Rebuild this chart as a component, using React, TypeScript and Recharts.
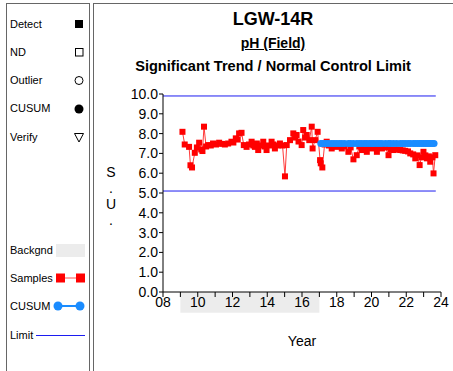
import { ComposedChart, Line, XAxis, YAxis, ReferenceLine, ReferenceArea } from 'recharts';

const sampleYears = [
  2009.12, 2009.25, 2009.5, 2009.58, 2009.67, 2009.83, 2009.95, 2010.08, 2010.2, 2010.27,
  2010.36, 2010.48, 2010.6, 2010.75, 2010.88, 2011.05, 2011.23, 2011.4, 2011.56, 2011.75,
  2011.94, 2012.05, 2012.19, 2012.3, 2012.38, 2012.52, 2012.65, 2012.81, 2012.95, 2013.1,
  2013.2, 2013.29, 2013.4, 2013.48, 2013.6, 2013.77, 2013.85, 2013.96, 2014.1, 2014.25,
  2014.35, 2014.44, 2014.6, 2014.73, 2014.88, 2015.02, 2015.12, 2015.31, 2015.5, 2015.6,
  2015.69, 2015.8, 2015.98, 2016.07, 2016.18, 2016.27, 2016.42, 2016.56, 2016.61, 2016.75,
  2016.9, 2017.04, 2017.08, 2017.17, 2017.3, 2017.42, 2017.55, 2017.71, 2017.85, 2018.0,
  2018.15, 2018.29, 2018.45, 2018.67, 2018.8, 2018.96, 2019.15, 2019.3, 2019.44, 2019.6,
  2019.73, 2019.88, 2020.02, 2020.15, 2020.31, 2020.45, 2020.6, 2020.8, 2020.98, 2021.1,
  2021.27, 2021.45, 2021.65, 2021.8, 2021.94, 2022.1, 2022.23, 2022.4, 2022.52, 2022.65,
  2022.77, 2022.88, 2022.99, 2023.1, 2023.19, 2023.3, 2023.38, 2023.5, 2023.57, 2023.67,
];

const samplePH = [
  8.09, 7.45, 7.33, 6.4, 6.29, 7.03, 7.3, 7.54, 7.2, 7.12,
  8.35, 7.35, 7.42, 7.4, 7.5, 7.45, 7.54, 7.48, 7.45, 7.5,
  7.59, 7.55, 7.76, 7.7, 8.01, 8.04, 7.42, 7.33, 7.45, 7.59,
  7.4, 7.33, 7.5, 7.17, 7.4, 7.59, 7.35, 7.17, 7.4, 7.59,
  7.45, 7.25, 7.4, 7.5, 7.4, 5.84, 7.42, 7.67, 8.01, 7.8,
  7.93, 7.6, 7.42, 8.18, 7.8, 7.93, 7.67, 8.35, 7.25, 7.67,
  8.09, 6.66, 6.5, 6.29, 7.45, 7.59, 7.4, 7.25, 7.4, 7.33,
  7.4, 7.25, 7.35, 7.08, 7.3, 6.7, 6.91, 7.35, 7.17, 7.3,
  7.08, 7.3, 7.25, 7.35, 7.08, 7.3, 7.25, 7.3, 6.91, 7.2,
  7.17, 7.2, 7.17, 7.15, 7.13, 7.1, 7.0, 6.95, 6.75, 6.9,
  6.41, 6.8, 7.08, 6.9, 6.75, 6.85, 6.58, 6.8, 5.99, 6.91,
];

const cusumYears = [
  2017.08, 2017.17, 2017.3, 2017.42, 2017.55, 2017.71, 2017.85, 2018.0, 2018.15, 2018.29,
  2018.45, 2018.67, 2018.8, 2018.96, 2019.15, 2019.3, 2019.44, 2019.6, 2019.73, 2019.88,
  2020.02, 2020.15, 2020.31, 2020.45, 2020.6, 2020.8, 2020.98, 2021.1, 2021.27, 2021.45,
  2021.65, 2021.8, 2021.94, 2022.1, 2022.23, 2022.4, 2022.52, 2022.65, 2022.77, 2022.88,
  2022.99, 2023.1, 2023.19, 2023.3, 2023.38, 2023.5, 2023.6,
];

const cusumValues = [
  7.5, 7.5, 7.5, 7.5, 7.5, 7.5, 7.5, 7.5, 7.5, 7.5,
  7.5, 7.5, 7.5, 7.5, 7.5, 7.5, 7.5, 7.5, 7.5, 7.5,
  7.5, 7.5, 7.5, 7.5, 7.5, 7.5, 7.5, 7.5, 7.5, 7.5,
  7.5, 7.5, 7.5, 7.5, 7.5, 7.5, 7.5, 7.5, 7.5, 7.5,
  7.5, 7.5, 7.5, 7.5, 7.5, 7.5, 7.5,
];

const yearTicks = [2008, 2009, 2010, 2011, 2012, 2013, 2014, 2015, 2016, 2017, 2018, 2019, 2020, 2021, 2022, 2023, 2024];
const phTicks = [0, 1, 2, 3, 4, 5, 6, 7, 8, 9, 10];

const upperLimit = 9.9;
const lowerLimit = 5.1;
const limitEnd = 2023.7;
const backgroundStart = 2009;
const backgroundEnd = 2017;

const sampleData = sampleYears.map((year, i) => ({ year, ph: samplePH[i] }));
const cusumData = cusumYears.map((year, i) => ({ year, cusum: cusumValues[i] }));

const FONT = '"Liberation Sans", Arial, Helvetica, sans-serif';
const RED = '#ff0000';
const BLUE = '#1a8cff';
const LIMIT = '#1c1cf0';

function SquareDot(props: any) {
  const { cx, cy } = props;
  if (cx == null || cy == null) return null;
  return <rect x={cx - 3} y={cy - 3} width={6} height={6} fill={RED} />;
}

function LegendPanel() {
  const label = (y: number, text: string) => (
    <text x={4} y={y} dominantBaseline="central" fontSize={11} fill="#000">{text}</text>
  );
  return (
    <svg width={83} height={368} style={{ position: 'absolute', left: 6, top: 3 }}>
      {label(21, 'Detect')}
      <rect x={69} y={17} width={8} height={8} fill="#000" />
      {label(49, 'ND')}
      <rect x={69.5} y={45.5} width={7.5} height={7.5} fill="none" stroke="#000" />
      {label(77, 'Outlier')}
      <circle cx={73} cy={77.5} r={4} fill="none" stroke="#000" />
      {label(105, 'CUSUM')}
      <circle cx={73} cy={106} r={4.5} fill="#000" />
      {label(134, 'Verify')}
      <polygon points="68.5,130.5 77.5,130.5 73,139" fill="none" stroke="#000" />

      {label(247, 'Backgnd')}
      <rect x={50} y={241} width={29} height={13} fill="#ececec" />
      {label(275, 'Samples')}
      <line x1={54} y1={275} x2={75} y2={275} stroke="#ff5050" strokeWidth={1} />
      <rect x={50} y={270.5} width={9} height={9} fill={RED} />
      <rect x={70} y={270.5} width={9} height={9} fill={RED} />
      {label(303, 'CUSUM')}
      <line x1={52} y1={303} x2={74} y2={303} stroke={BLUE} strokeWidth={2} />
      <circle cx={52} cy={303} r={4.5} fill={BLUE} />
      <circle cx={74} cy={303} r={4.5} fill={BLUE} />
      {label(332, 'Limit')}
      <line x1={30} y1={332.5} x2={79} y2={332.5} stroke={LIMIT} strokeWidth={1} />
    </svg>
  );
}

export default function App() {
  return (
    <div style={{ position: 'absolute', left: 0, top: 0, width: 453, height: 371, overflow: 'hidden', background: '#fff', fontFamily: FONT }}>
      <div style={{ position: 'absolute', left: 6, top: 3, width: 84, height: 380, border: '1px solid #666', boxSizing: 'border-box' }} />
      <div style={{ position: 'absolute', left: 93, top: 3, width: 380, height: 380, border: '1px solid #666', boxSizing: 'border-box' }} />
      <LegendPanel />

      <ComposedChart
        width={453}
        height={371}
        margin={{ top: 94, right: 12, bottom: 49, left: 113 }}
        style={{ position: 'absolute', left: 0, top: 0, fontFamily: FONT }}
      >
        <XAxis
          dataKey="year"
          type="number"
          domain={[2008, 2024]}
          ticks={yearTicks}
          allowDataOverflow
          interval={0}
          height={30}
          tickSize={5}
          tickMargin={0}
          stroke="#000"
          tick={{ fill: '#000', fontSize: 14 }}
          tickFormatter={(v: number) => (v % 2 === 0 ? String(v % 100).padStart(2, '0') : '')}
        />
        <YAxis
          type="number"
          domain={[0, 10]}
          ticks={phTicks}
          allowDataOverflow
          interval={0}
          width={50}
          tickSize={4}
          tickMargin={1}
          stroke="#000"
          tick={{ fill: '#000', fontSize: 14 }}
          tickFormatter={(v: number) => v.toFixed(1)}
        />
        <ReferenceArea
          x1={backgroundStart}
          x2={backgroundEnd}
          y1={-1.05}
          y2={0}
          ifOverflow="visible"
          fill="#ececec"
          fillOpacity={1}
          stroke="none"
        />
        <ReferenceLine
          segment={[{ x: 2008, y: upperLimit }, { x: limitEnd, y: upperLimit }]}
          stroke={LIMIT}
          strokeWidth={1}
        />
        <ReferenceLine
          segment={[{ x: 2008, y: lowerLimit }, { x: limitEnd, y: lowerLimit }]}
          stroke={LIMIT}
          strokeWidth={1}
        />
        <Line
          data={sampleData}
          dataKey="ph"
          type="linear"
          stroke="#ff3a3a"
          strokeWidth={1}
          dot={<SquareDot />}
          activeDot={false}
          isAnimationActive={false}
        />
        <Line
          data={cusumData}
          dataKey="cusum"
          type="linear"
          stroke={BLUE}
          strokeWidth={3}
          dot={{ r: 3.5, fill: BLUE, stroke: 'none' }}
          activeDot={false}
          isAnimationActive={false}
        />
      </ComposedChart>

      <div style={{ position: 'absolute', left: 93, width: 360, top: 8, textAlign: 'center', fontWeight: 'bold', fontSize: 18, lineHeight: '22px', color: '#000' }}>
        LGW-14R
      </div>
      <div style={{ position: 'absolute', left: 93, width: 360, top: 34, textAlign: 'center', fontWeight: 'bold', fontSize: 14, lineHeight: '18px', textDecoration: 'underline', color: '#000' }}>
        pH (Field)
      </div>
      <div style={{ position: 'absolute', left: 93, width: 360, top: 57, textAlign: 'center', fontWeight: 'bold', fontSize: 14.6, lineHeight: '18px', color: '#000' }}>
        Significant Trend / Normal Control Limit
      </div>
      <div style={{ position: 'absolute', left: 104, top: 164, width: 14, textAlign: 'center', fontSize: 14, lineHeight: '16px', color: '#000' }}>
        S<br />.<br />U<br />.
      </div>
      <div style={{ position: 'absolute', left: 282, top: 332, width: 40, textAlign: 'center', fontSize: 14, lineHeight: '18px', color: '#000' }}>
        Year
      </div>
    </div>
  );
}
